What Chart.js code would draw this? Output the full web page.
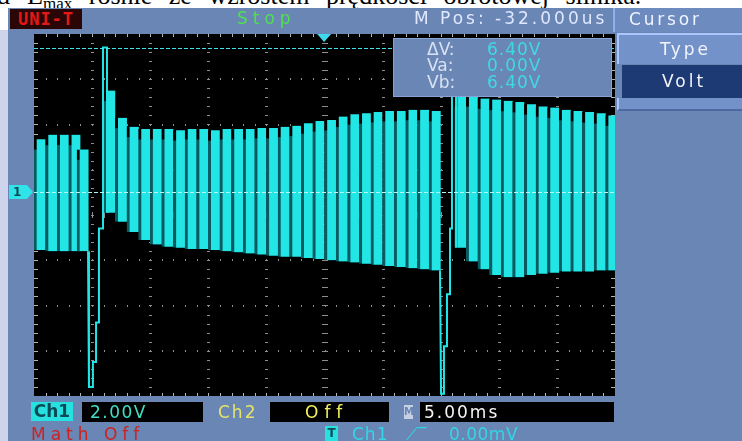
<!DOCTYPE html>
<html lang="pl">
<head>
<meta charset="utf-8">
<title>UNI-T – Ch1</title>
<script src="https://cdn.jsdelivr.net/npm/chart.js@4.4.1/dist/chart.umd.min.js"></script>
<style>
  html, body { margin: 0; padding: 0; }
  body { position: relative; width: 742px; height: 441px; overflow: hidden; background: #fff;
         font-family: "DejaVu Sans", sans-serif; }
  .abs { position: absolute; white-space: nowrap; }
  #caption { left: -3px; top: -19px; font: 26px "Liberation Serif", serif; color: #000; word-spacing: 10px; }
  #caption sub { font-size: 17px; vertical-align: -5px; }
  #edge { left: 0; top: 30px; width: 8px; height: 411px; background: #cdd4ec; }
  #panel { left: 8px; top: 8px; width: 734px; height: 433px; background: #6a86b4; }
  #scope { position: absolute; left: 0; top: 0; }
  .lbl { font-size: 17px; line-height: 20px; }
  #brand { left: 10px; top: 9px; width: 72px; height: 20px; background: #2a0606; color: #e41818;
           font: bold 17px/20px "DejaVu Sans Mono", monospace; text-align: center; letter-spacing: 1px; }
  #state { left: 237px; top: 8px; color: #4fe04f; letter-spacing: 5px; }
  #mpos { left: 414px; top: 8px; color: #dfe8ff; letter-spacing: 3px; }
  #menuHead { left: 613px; top: 8px; width: 129px; height: 24px; border-left: 2px solid #8fb0e8;
              background: #6d8bbf; }
  #menuHead span { position: absolute; left: 14px; top: 1px; color: #f0f4ff; letter-spacing: 2.8px; }
  #typeBox { left: 617px; top: 33px; width: 125px; height: 31px; background: #7392c9;
             border-left: 2px solid #a9c6ff; border-top: 2px solid #a9c6ff; box-sizing: border-box; }
  #typeBox span { position: absolute; left: 41px; top: 4px; color: #f2f4fa; letter-spacing: 3px; }
  #voltBox { left: 622px; top: 65px; width: 120px; height: 33px; background: #1e3a74; }
  #voltBox span { position: absolute; left: 40px; top: 6px; color: #f2f4fa; letter-spacing: 3px; }
  #menuFoot { left: 617px; top: 98px; width: 125px; height: 13px; background: #7392c9;
              border-left: 2px solid #a9c6ff; border-bottom: 2px solid #4d6aa0; box-sizing: border-box; }
  #cursorBox { left: 393px; top: 38px; width: 219px; height: 59px; background: #6a86b4;
               border: 1px solid #86a2d6; box-sizing: border-box; }
  .cName { position: absolute; left: 33px; color: #d8e2f4; }
  .cVal { position: absolute; left: 93px; color: #3fd9e6; letter-spacing: 1px; }
  .blk { background: #000; height: 20px; }
  #ch1Tag { left: 31px; top: 402px; width: 42px; height: 19px; background: #27e0e0; color: #0c4a56;
            font: bold 17px/19px "DejaVu Sans", sans-serif; text-align: center; }
  #ch1Box { left: 82px; top: 402px; width: 121px; }
  #ch1Box span { position: absolute; left: 8px; top: 0; color: #3fe0c4; letter-spacing: 1.5px; }
  #ch2Tag { left: 218px; top: 402px; color: #e4e46a; letter-spacing: 2px; }
  #ch2Box { left: 270px; top: 402px; width: 119px; }
  #ch2Box span { position: absolute; left: 35px; top: 0; color: #f0f060; letter-spacing: 6px; }
  #mIcon { left: 404px; top: 405px; width: 9px; height: 14px; background: #c8d0e4; color: #6a86b4;
           font: bold 10px/14px "DejaVu Sans", sans-serif; text-align: center; }
  #tbBox { left: 420px; top: 402px; width: 194px; }
  #tbBox span { position: absolute; left: 4px; top: 0; color: #f4f4f4; letter-spacing: 2px; }
  #mathOff { left: 31px; top: 424px; color: #cc2222; letter-spacing: 5px; }
  #trigTag { left: 325px; top: 426px; width: 13px; height: 15px; background: #27e0e0; color: #0c4a56;
             font: bold 12px/15px "DejaVu Sans", sans-serif; text-align: center; }
  #trigSrc { left: 352px; top: 424px; color: #33d6e6; letter-spacing: 1px; }
  #trigEdge { left: 406px; top: 424px; color: #33d6e6; }
  #trigLvl { left: 449px; top: 424px; color: #33d6e6; letter-spacing: 0.5px; }
</style>
</head>
<body>
<div id="caption" class="abs">ɑ E<sub>max</sub> rośnie ze wzrostem prędkości obrotowej silnika.</div>
<div id="edge" class="abs"></div>
<div id="panel" class="abs"></div>
<canvas id="scope" width="742" height="441"></canvas>

<div id="brand" class="abs">UNI-T</div>
<div id="state" class="abs lbl">Stop</div>
<div id="mpos" class="abs lbl"></div>
<div id="menuHead" class="abs lbl"><span>Cursor</span></div>
<div id="typeBox" class="abs lbl"><span>Type</span></div>
<div id="voltBox" class="abs lbl"><span>Volt</span></div>
<div id="menuFoot" class="abs"></div>

<div id="cursorBox" class="abs lbl">
  <span class="cName" style="top:0px">ΔV:</span><span class="cVal" id="dv" style="top:0px"></span>
  <span class="cName" style="top:16px">Va:</span><span class="cVal" id="va" style="top:16px"></span>
  <span class="cName" style="top:33px">Vb:</span><span class="cVal" id="vb" style="top:33px"></span>
</div>

<div id="ch1Tag" class="abs">Ch1</div>
<div id="ch1Box" class="abs lbl blk"><span id="vdiv"></span></div>
<div id="ch2Tag" class="abs lbl">Ch2</div>
<div id="ch2Box" class="abs lbl blk"><span>Off</span></div>
<div id="mIcon" class="abs">M</div>
<div id="tbBox" class="abs lbl blk"><span id="tdiv"></span></div>
<div id="mathOff" class="abs lbl">Math Off</div>
<div id="trigTag" class="abs">T</div>
<div id="trigSrc" class="abs lbl">Ch1</div>
<div id="trigEdge" class="abs lbl">⟋‾</div>
<div id="trigLvl" class="abs lbl">0.00mV</div>

<script>
// ---- Acquisition settings --------------------------------------------------
const voltsPerDiv = 2.0;            // Ch1 V/div
const timePerDivMs = 5.0;           // M 5.00ms
const horizPosUs = -32.0;           // M Pos
const triggerLevelMv = 0.0;         // trigger level
const cursorVa = 0.0;               // voltage cursor A
const cursorVb = 6.4;               // voltage cursor B

// Screen divisions (time in ms, Ch1 voltage in V)
const xDivTicks = [-25, -20, -15, -10, -5, 0, 5, 10, 15, 20, 25];
const yDivTicks = [-9, -7, -5, -3, -1, 1, 3, 5, 7];

// ---- Captured Ch1 waveform: one entry per switching cycle ---------------------
const cycleTimeMs = [
  -24.5, -23.5, -22.5, -21.5, -20.8,
  -18.5, -17.5, -16.5, -15.5, -14.5, -13.5, -12.5, -11.5, -10.5, -9.5,
  -8.5, -7.5, -6.5, -5.5, -4.5, -3.5, -2.5, -1.5, -0.5, 0.5,
  1.5, 2.5, 3.5, 4.5, 5.5, 6.5, 7.5, 8.5, 9.5,
  11.7, 12.7, 13.7, 14.7, 15.7, 16.7, 17.7, 18.7, 19.7, 20.7, 21.7, 22.7, 23.7, 24.7
];
const cycleHighV = [
  2.35, 2.55, 2.55, 2.55, 1.9,
  4.5, 3.3, 2.9, 2.8, 2.8, 2.8, 2.75, 2.8, 2.8, 2.75,
  2.8, 2.8, 2.8, 2.85, 2.85, 2.9, 2.95, 3.05, 3.15, 3.2,
  3.35, 3.45, 3.5, 3.55, 3.6, 3.6, 3.65, 3.65, 3.6,
  4.25, 4.25, 4.15, 4.1, 4.05, 4.0, 3.9, 3.8, 3.75, 3.65, 3.6, 3.55, 3.5, 3.4
];
const cycleLowV = [
  -2.55, -2.6, -2.6, -2.6, -2.6,
  -0.9, -1.3, -1.75, -2.1, -2.3, -2.4, -2.45, -2.5, -2.5, -2.55,
  -2.6, -2.65, -2.7, -2.75, -2.8, -2.85, -2.85, -2.9, -2.95, -3.0,
  -3.05, -3.1, -3.15, -3.2, -3.25, -3.3, -3.35, -3.4, -3.45,
  -2.45, -3.05, -3.4, -3.65, -3.75, -3.75, -3.65, -3.6, -3.55, -3.5, -3.5, -3.5, -3.45, -3.45
];

// Commutation transients (trace vertices)
const transientTimeMs = [
  -20.35, -20.27, -19.93, -19.93, -19.66, -19.66, -19.41, -19.41, -19.06, -19.06, -18.72, -18.72,
  null,
  9.94, 10.03, 10.28, 10.28, 10.54, 10.54, 10.80, 10.80, 10.97, 10.97, 11.32, 11.32
];
const transientV = [
  -2.6, -8.6, -8.6, -7.5, -7.5, -5.75, -5.75, -1.6, -1.6, 6.4, 6.4, -0.9,
  null,
  -3.45, -8.9, -8.9, -6.8, -6.8, -4.5, -4.5, -1.6, -1.6, 6.4, 6.4, -2.45
];

// ---- Readouts ---------------------------------------------------------------
const fmtV = v => v.toFixed(2) + 'V';
document.getElementById('dv').textContent = fmtV(cursorVb - cursorVa);
document.getElementById('va').textContent = fmtV(cursorVa);
document.getElementById('vb').textContent = fmtV(cursorVb);
document.getElementById('vdiv').textContent = voltsPerDiv.toFixed(2) + 'V';
document.getElementById('tdiv').textContent = timePerDivMs.toFixed(2) + 'ms';
document.getElementById('mpos').textContent = 'M Pos: ' + horizPosUs.toFixed(3) + 'us';
document.getElementById('trigLvl').textContent = triggerLevelMv.toFixed(2) + 'mV';

const CYAN = '#22e6e6';
const TEAL = '#0a5a62';
const xMin = xDivTicks[0], xMax = xDivTicks[xDivTicks.length - 1];
const yMin = yDivTicks[0], yMax = yDivTicks[yDivTicks.length - 1];
const xMinor = timePerDivMs / 5, yMinor = voltsPerDiv / 5;

// Edge between cycles: black just under the cycle peak, dark teal further down
function cycleEdgeColor(c) {
  const chart = c.chart;
  const ys = chart.scales && chart.scales.y;
  if (c.type !== 'data' || !ys || !chart.chartArea) return TEAL;
  const top = ys.getPixelForValue(cycleHighV[c.dataIndex]);
  const g = chart.ctx.createLinearGradient(0, top, 0, top + 11);
  g.addColorStop(0, '#000');
  g.addColorStop(0.9, '#000');
  g.addColorStop(1, TEAL);
  return g;
}

// Graticule: black screen, dotted divisions, centre cross and edge ticks
const graticule = {
  id: 'graticule',
  beforeDatasetsDraw(chart) {
    const { ctx, chartArea: a, scales: { x, y } } = chart;
    ctx.save();
    ctx.fillStyle = '#000';
    ctx.fillRect(a.left, a.top, a.right - a.left, a.bottom - a.top);
    ctx.fillStyle = '#8e8e8e';
    const xc = xDivTicks[(xDivTicks.length - 1) / 2];
    const yc = yDivTicks[(yDivTicks.length - 1) / 2];
    for (const t of xDivTicks) {
      if (t === xMin || t === xMax) continue;
      const px = Math.round(x.getPixelForValue(t));
      for (let v = yMin + yMinor; v < yMax - 1e-6; v += yMinor) {
        const py = Math.round(y.getPixelForValue(v));
        if (t === xc) ctx.fillRect(px - 3, py, 6, 1);
        else ctx.fillRect(px - 1, py, 3, 1);
      }
    }
    for (const v of yDivTicks) {
      if (v === yMin || v === yMax) continue;
      const py = Math.round(y.getPixelForValue(v));
      for (let t = xMin + xMinor; t < xMax - 1e-6; t += xMinor) {
        const px = Math.round(x.getPixelForValue(t));
        if (v === yc) ctx.fillRect(px, py - 3, 1, 6);
        else ctx.fillRect(px, py - 1, 1, 2);
      }
    }
    // edge ticks
    ctx.fillStyle = '#b4b4b4';
    for (let t = xMin + xMinor; t < xMax - 1e-6; t += xMinor) {
      const px = Math.round(x.getPixelForValue(t));
      ctx.fillRect(px, a.top, 1, 3);
      ctx.fillRect(px, a.bottom - 3, 1, 3);
    }
    for (let v = yMin + yMinor; v < yMax - 1e-6; v += yMinor) {
      const py = Math.round(y.getPixelForValue(v));
      ctx.fillRect(a.left, py, 4, 1);
      ctx.fillRect(a.right - 4, py, 4, 1);
    }
    ctx.restore();
  },
  afterDatasetsDraw(chart) {
    const { ctx, chartArea: a, scales: { x, y } } = chart;
    ctx.save();
    // voltage cursors
    ctx.setLineDash([4, 2]);
    ctx.lineWidth = 1;
    ctx.strokeStyle = '#40e4ea';
    let py = Math.round(y.getPixelForValue(cursorVb)) + 0.5;
    ctx.beginPath(); ctx.moveTo(a.left, py); ctx.lineTo(a.right, py); ctx.stroke();
    ctx.strokeStyle = '#b8f6f6';
    py = Math.round(y.getPixelForValue(cursorVa)) + 0.5;
    ctx.beginPath(); ctx.moveTo(a.left, py); ctx.lineTo(a.right, py); ctx.stroke();
    ctx.setLineDash([]);
    // trigger position marker
    const tx = x.getPixelForValue(horizPosUs / 1000);
    ctx.fillStyle = '#3fd8ee';
    ctx.beginPath();
    ctx.moveTo(tx - 7, a.top); ctx.lineTo(tx + 7, a.top); ctx.lineTo(tx, a.top + 8); ctx.closePath();
    ctx.fill();
    // Ch1 ground marker
    const gy = Math.round(y.getPixelForValue(0));
    ctx.fillStyle = '#2ee4e8';
    ctx.beginPath();
    ctx.moveTo(9, gy - 7); ctx.lineTo(27, gy - 7); ctx.lineTo(33, gy); ctx.lineTo(27, gy + 7);
    ctx.lineTo(9, gy + 7); ctx.closePath(); ctx.fill();
    ctx.fillStyle = '#0c4a56';
    ctx.font = 'bold 12px "DejaVu Sans"';
    ctx.textBaseline = 'middle';
    ctx.fillText('1', 13, gy + 1);
    ctx.restore();
  }
};

new Chart(document.getElementById('scope'), {
  data: {
    datasets: [
      {
        type: 'bar',
        label: 'Ch1',
        data: cycleTimeMs.map((t, i) => ({ x: t, y: [cycleLowV[i], cycleHighV[i]] })),
        backgroundColor: CYAN,
        borderColor: cycleEdgeColor,
        borderWidth: { left: 3, right: 0, top: 0, bottom: 0 },
        borderSkipped: false,
        barThickness: 11.6,
        clip: 0,
        order: 2
      },
      {
        type: 'line',
        label: 'Ch1 transients',
        data: transientTimeMs.map((t, i) => ({ x: t, y: transientV[i] })),
        borderColor: CYAN,
        borderWidth: 2,
        pointRadius: 0,
        tension: 0,
        spanGaps: false,
        clip: 0,
        order: 1
      }
    ]
  },
  options: {
    responsive: false,
    animation: false,
    devicePixelRatio: 1,
    layout: { padding: { left: 34, right: 127, top: 34, bottom: 45 } },
    plugins: { legend: { display: false }, tooltip: { enabled: false } },
    scales: {
      x: { type: 'linear', min: xMin, max: xMax, offset: false, display: false },
      y: { type: 'linear', min: yMin, max: yMax, display: false }
    }
  },
  plugins: [graticule]
});
</script>
</body>
</html>
